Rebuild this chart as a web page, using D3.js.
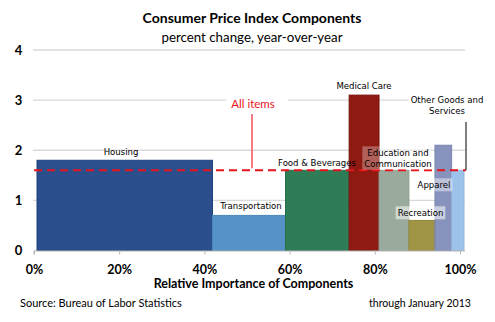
<!DOCTYPE html>
<html>
<head>
<meta charset="utf-8">
<script src="https://cdn.jsdelivr.net/npm/d3@7"></script>
<style>
  body { margin: 0; background: #fff; }
  svg { display: block; }
</style>
</head>
<body>
<script>
const WIDTH = 495;
const HEIGHT = 322;

// CPI components: share of basket (%) and year-over-year change (%)
const categories = ['Housing', 'Transportation', 'Food & Beverages', 'Medical Care',
  'Education and Communication', 'Recreation', 'Apparel', 'Other Goods and Services'];
const weights = [41.1, 17.1, 14.9, 7.0, 7.0, 6.1, 3.9, 2.9];
const changes = [1.8, 0.7, 1.6, 3.1, 1.6, 0.6, 2.1, 1.6];
const colors = ['#2a4f8c', '#5592c7', '#2f7d57', '#8e1a12', '#9aab9d', '#a09446', '#8793bc', '#9dc3ea'];
const strokes = ['#20437c', '#4c86bb', '#276e4b', '#7a130d', '#8f9f91', '#928739', '#7885b0', '#8fb7df'];
const allItems = 1.6;
const yTicks = [0, 1, 2, 3, 4];
const xTicks = [0, 20, 40, 60, 80, 100];

let svg = d3.select('body').append('svg')
    .attr('width', WIDTH)
    .attr('height', HEIGHT);

// axis scale and bar scale are slightly offset in the original
let xScale = d3.scaleLinear().domain([0, 100]).range([34, 460]);
let xBar = d3.scaleLinear().domain([0, 100]).range([37, 464]);
let yScale = d3.scaleLinear().domain([0, 4]).range([250.5, 50]);

let cum = 0;
let bars = categories.map(function(c, i) {
  let b = { name: c, x0: cum, x1: cum + weights[i], v: changes[i], fill: colors[i], stroke: strokes[i] };
  cum += weights[i];
  return b;
});

// gridlines
svg.append('g')
  .selectAll('line')
  .data(yTicks.slice(1))
  .join('line')
    .attr('x1', 33).attr('x2', 465)
    .attr('y1', d => yScale(d)).attr('y2', d => yScale(d))
    .attr('stroke', '#d9d9d9')
    .attr('stroke-width', 1.3);

// y labels
svg.append('g')
  .selectAll('text')
  .data(yTicks)
  .join('text')
    .attr('x', 18.5)
    .attr('y', d => yScale(d) + 4.5)
    .attr('text-anchor', 'middle')
    .attr('font-family', 'Lato, sans-serif')
    .attr('font-weight', 'bold')
    .attr('font-size', 13)
    .text(d => d);

// bars
svg.append('g')
  .selectAll('rect')
  .data(bars)
  .join('rect')
    .attr('x', d => xBar(d.x0))
    .attr('width', d => xBar(d.x1) - xBar(d.x0))
    .attr('y', d => yScale(d.v))
    .attr('height', d => yScale(0) - yScale(d.v))
    .attr('fill', d => d.fill)
    .attr('stroke', d => d.stroke)
    .attr('stroke-width', 1);

// x axis
let xAxis = svg.append('g')
    .attr('transform', 'translate(0,' + yScale(0) + ')')
    .call(d3.axisBottom(xScale).tickValues(xTicks).tickSize(4).tickFormat(d => d + '%'));
xAxis.select('.domain').attr('stroke', '#b8b8b8').attr('d', 'M34,4V0.5H465');
xAxis.selectAll('.tick line').attr('stroke', '#b8b8b8');
xAxis.selectAll('.tick text')
    .attr('y', 15)
    .attr('font-family', 'Lato, sans-serif')
    .attr('font-weight', 'bold')
    .attr('font-size', 12.5)
    .attr('fill', '#000');

const labelFont = 'DejaVu Sans Condensed, DejaVu Sans, sans-serif';

function label(lines, cx, cy, bg) {
  let g = svg.append('g');
  let t = g.append('text')
      .attr('font-family', labelFont)
      .attr('font-size', 9.5)
      .attr('text-anchor', 'middle')
      .attr('fill', '#000');
  lines.forEach(function(l, i) {
    t.append('tspan').attr('x', cx).attr('y', cy + i * 10.5 + 3.3).text(l);
  });
  if (bg) {
    let bb = t.node().getBBox();
    g.insert('rect', 'text')
      .attr('x', bb.x - 2).attr('y', bb.y - 1)
      .attr('width', bb.width + 4).attr('height', bb.height + 2)
      .attr('fill', '#fff')
      .attr('opacity', bg);
  }
  return g;
}

// dashed "All items" line
svg.append('line')
    .attr('x1', xScale(0)).attr('x2', 466)
    .attr('y1', yScale(allItems)).attr('y2', yScale(allItems))
    .attr('stroke', '#e8141c')
    .attr('stroke-width', 2)
    .attr('stroke-dasharray', '8,5');

// leader for "Other Goods and Services"
svg.append('line')
    .attr('x1', 466).attr('x2', 466)
    .attr('y1', 122).attr('y2', yScale(allItems))
    .attr('stroke', '#555')
    .attr('stroke-width', 1.5);

// bar labels
label(['Housing'], 121, 152, 0);
label(['Transportation'], 251, 205.5, 0);
label(['Food & Beverages'], 317, 163, 0);
label(['Medical Care'], 364, 86, 1);
label(['Other Goods and', 'Services'], 447, 100, 1);
label(['Education and', 'Communication'], 398, 153, 0.3);
label(['Apparel'], 434, 185, 0.45);
label(['Recreation'], 420.5, 213, 0.55);

// All items callout
svg.append('rect')
    .attr('x', 226).attr('y', 93).attr('width', 62).attr('height', 22)
    .attr('fill', '#fff');
svg.append('line')
    .attr('x1', 252).attr('x2', 252)
    .attr('y1', 114).attr('y2', yScale(allItems) - 2)
    .attr('stroke', '#f0525a')
    .attr('stroke-width', 1.5);
svg.append('text')
    .attr('x', 253).attr('y', 108)
    .attr('text-anchor', 'middle')
    .attr('font-family', 'Lato, sans-serif')
    .attr('font-size', 11.5)
    .attr('fill', '#e8141c')
    .text('All items');

// titles
svg.append('text')
    .attr('x', 252).attr('y', 23)
    .attr('text-anchor', 'middle')
    .attr('font-family', 'Lato, sans-serif')
    .attr('font-weight', 'bold')
    .attr('font-size', 14)
    .text('Consumer Price Index Components');
svg.append('text')
    .attr('x', 252).attr('y', 42)
    .attr('text-anchor', 'middle')
    .attr('font-family', 'Lato, sans-serif')
    .attr('font-size', 13.3)
    .text('percent change, year-over-year');

svg.append('text')
    .attr('x', 253.5).attr('y', 288)
    .attr('text-anchor', 'middle')
    .attr('font-family', 'Lato, sans-serif')
    .attr('font-weight', 'bold')
    .attr('font-size', 12.5)
    .text('Relative Importance of Components');

svg.append('text')
    .attr('x', 20).attr('y', 307)
    .attr('font-family', 'Lato, sans-serif')
    .attr('font-size', 11)
    .text('Source: Bureau of Labor Statistics');
svg.append('text')
    .attr('x', 471).attr('y', 307)
    .attr('text-anchor', 'end')
    .attr('font-family', 'Lato, sans-serif')
    .attr('font-size', 10.6)
    .text('through January 2013');
</script>
</body>
</html>
